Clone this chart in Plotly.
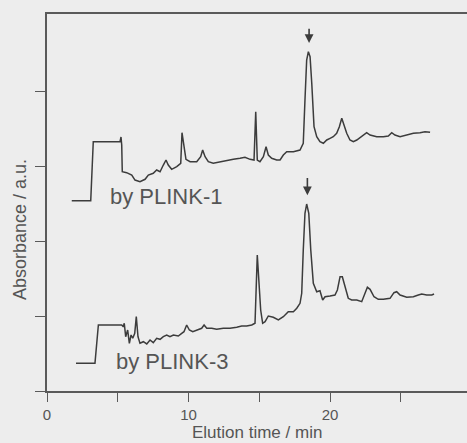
import plotly.graph_objects as go

# Elution times (min) and absorbance (a.u., offset traces) for the two chromatograms
time_plink1 = [1.75, 3.09, 3.27, 5.16, 5.23, 5.28, 5.32, 5.63, 5.99, 6.22, 6.57, 6.93, 7.16, 7.51,
               7.75, 7.99, 8.22, 8.41, 8.57, 8.81, 9.17, 9.45, 9.54, 9.68, 9.82, 10.11, 10.58,
               10.86, 11.0, 11.17, 11.4, 11.75, 12.23, 12.7, 13.17, 13.64, 13.99, 14.35, 14.63,
               14.75, 14.86, 15.05, 15.29, 15.48, 15.64, 15.88, 16.23, 16.47, 16.7, 16.94, 17.41,
               17.88, 18.11, 18.23, 18.35, 18.47, 18.59, 18.71, 18.87, 19.06, 19.29, 19.53,
               19.77, 20.0, 20.23, 20.47, 20.66, 20.83, 20.99, 21.18, 21.41, 21.65, 21.89,
               22.12, 22.35, 22.59, 22.83, 23.3, 23.77, 24.12, 24.36, 24.59, 24.95, 25.42,
               25.89, 26.36, 26.71, 27.07]
abs_plink1 = [2.537, 2.537, 3.324, 3.324, 3.387, 3.28, 2.924, 2.911, 2.88, 2.813, 2.791, 2.823,
              2.88, 2.903, 2.947, 2.924, 3.013, 3.08, 3.013, 2.956, 2.991, 3.036, 3.444, 3.28,
              3.089, 3.057, 3.057, 3.124, 3.213, 3.124, 3.057, 3.036, 3.057, 3.071, 3.089,
              3.103, 3.116, 3.089, 3.08, 3.724, 3.08, 3.057, 3.124, 3.257, 3.147, 3.103, 3.08,
              3.08, 3.147, 3.191, 3.191, 3.213, 3.303, 3.88, 4.413, 4.524, 4.457, 4.103, 3.524,
              3.391, 3.324, 3.303, 3.347, 3.369, 3.391, 3.436, 3.524, 3.636, 3.547, 3.436,
              3.347, 3.324, 3.347, 3.383, 3.413, 3.444, 3.413, 3.391, 3.391, 3.4, 3.444, 3.413,
              3.391, 3.413, 3.436, 3.444, 3.457, 3.449]

time_plink3 = [2.05, 3.39, 3.63, 5.28, 5.39, 5.46, 5.56, 5.7, 5.82, 5.94, 6.06, 6.2, 6.31, 6.43,
               6.57, 6.81, 7.05, 7.28, 7.51, 7.75, 7.99, 8.22, 8.46, 8.69, 8.93, 9.28, 9.52,
               9.68, 9.87, 10.06, 10.3, 10.58, 10.93, 11.1, 11.29, 11.64, 11.99, 12.46, 12.93,
               13.41, 13.76, 14.11, 14.47, 14.7, 14.86, 15.1, 15.24, 15.41, 15.64, 15.99, 16.35,
               16.7, 17.05, 17.41, 17.65, 17.88, 18.0, 18.11, 18.23, 18.35, 18.5, 18.64, 18.82,
               19.06, 19.29, 19.48, 19.65, 20.0, 20.35, 20.52, 20.71, 20.87, 21.06, 21.29,
               21.53, 21.89, 22.24, 22.47, 22.64, 22.83, 23.11, 23.41, 23.77, 24.24, 24.52,
               24.71, 24.95, 25.42, 25.89, 26.24, 26.48, 26.83, 27.19, 27.35]
abs_plink3 = [0.369, 0.369, 0.88, 0.88, 0.857, 0.903, 0.724, 0.813, 0.636, 0.747, 0.703, 0.769,
              0.991, 0.724, 0.636, 0.657, 0.627, 0.68, 0.644, 0.703, 0.689, 0.724, 0.747, 0.724,
              0.747, 0.733, 0.769, 0.791, 0.88, 0.813, 0.791, 0.813, 0.836, 0.88, 0.836, 0.836,
              0.823, 0.836, 0.836, 0.849, 0.867, 0.867, 0.88, 0.903, 1.813, 1.08, 0.903, 0.924,
              1.0, 0.983, 0.947, 0.991, 1.057, 1.057, 1.103, 1.169, 1.303, 1.88, 2.369, 2.493,
              2.369, 1.88, 1.436, 1.324, 1.337, 1.213, 1.257, 1.267, 1.28, 1.347, 1.524, 1.524,
              1.391, 1.236, 1.213, 1.213, 1.191, 1.303, 1.383, 1.356, 1.257, 1.223, 1.223,
              1.236, 1.311, 1.324, 1.28, 1.249, 1.257, 1.28, 1.293, 1.28, 1.28, 1.293]

trace_labels = ["by PLINK-1", "by PLINK-3"]
label_pos = [(8.45, 2.59), (8.87, 0.40)]
# Arrows marking the target peak: (time, tail level, head level)
arrow_marks = [(18.52, 4.85, 4.64), (18.40, 2.86, 2.61)]

x_tickvals = [0, 5, 10, 15, 20, 25]
x_ticktext = ["0", "", "10", "", "20", ""]
y_tickvals = [0, 1, 2, 3, 4]

bg = "#ededed"
ink = "#3c3c3c"
axis_col = "#5a5a5a"
text_col = "#555555"
font_family = "Liberation Sans, Arial, sans-serif"

fig = go.Figure()
for t, a in [(time_plink1, abs_plink1), (time_plink3, abs_plink3)]:
    fig.add_trace(go.Scatter(x=t, y=a, mode="lines",
                             line=dict(color=ink, width=1.5),
                             showlegend=False, hoverinfo="skip"))

annotations = []
for lab, (lx, ly) in zip(trace_labels, label_pos):
    annotations.append(dict(x=lx, y=ly, xref="x", yref="y", text=lab, showarrow=False,
                            font=dict(size=22, color=text_col, family=font_family),
                            xanchor="center", yanchor="middle"))
for ax_t, tail, head in arrow_marks:
    annotations.append(dict(x=ax_t, y=head, ax=ax_t, ay=tail, xref="x", yref="y",
                            axref="x", ayref="y", text="", showarrow=True,
                            arrowhead=2, arrowsize=1.1, arrowwidth=1.6, arrowcolor=ink))
# Axis titles
annotations.append(dict(x=0, y=0.427, xref="paper", yref="paper", xshift=-27,
                        text="Absorbance / a.u.", textangle=-90, showarrow=False,
                        font=dict(size=18, color=text_col, family=font_family),
                        xanchor="center", yanchor="middle"))
annotations.append(dict(x=0.5, y=0, xref="paper", yref="paper", yshift=-41,
                        text="Elution time / min", showarrow=False,
                        font=dict(size=17, color=text_col, family=font_family),
                        xanchor="center", yanchor="middle"))

fig.update_layout(
    width=467, height=443,
    margin=dict(l=47, r=0, t=14, b=52),
    paper_bgcolor=bg, plot_bgcolor=bg,
    annotations=annotations,
    xaxis=dict(range=[0, 29.68], tickvals=x_tickvals, ticktext=x_ticktext,
               ticks="outside", ticklen=9, tickwidth=1.3, tickcolor=axis_col,
               showline=True, linecolor=axis_col, linewidth=1.8, mirror=True,
               showgrid=False, zeroline=False,
               tickfont=dict(size=15, color=text_col, family=font_family)),
    yaxis=dict(range=[0, 5.027], tickvals=y_tickvals, showticklabels=False,
               ticks="outside", ticklen=10, tickwidth=1.3, tickcolor=axis_col,
               showline=True, linecolor=axis_col, linewidth=1.8,
               showgrid=False, zeroline=False),
)

fig.write_html("out.html")
